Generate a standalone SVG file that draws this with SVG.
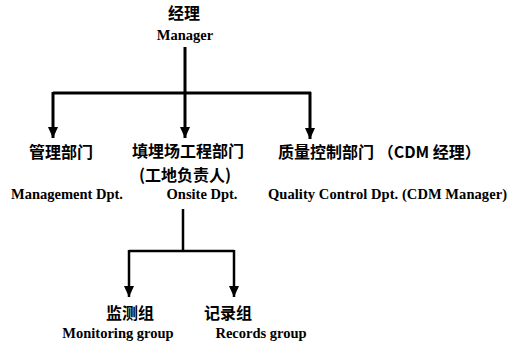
<svg xmlns="http://www.w3.org/2000/svg" width="511" height="345" viewBox="0 0 511 345">
<style>
.zh{font-family:"Noto Sans CJK SC",sans-serif;font-size:16px;font-weight:bold;fill:#000}
.en{font-family:"Liberation Serif",serif;font-size:14.5px;font-weight:bold;fill:#000}
.ln{stroke:#000;stroke-width:3;fill:none}
.ln2{stroke:#000;stroke-width:2.5;fill:none}
</style>
<defs>
<marker id="ahv" markerUnits="userSpaceOnUse" markerWidth="12" markerHeight="13" refX="12" refY="6" orient="auto" viewBox="0 0 13 12">
<path d="M0,0.5 L0,11.5 L12,6 Z" fill="#000"/>
</marker>
</defs>
<rect width="511" height="345" fill="#fff"/>
<g id="connectors">
<path class="ln" d="M185,47 V93 M53,93 H311"/>
<path class="ln" d="M53,92 V138" marker-end="url(#ahv)"/>
<path class="ln" d="M185,92 V138" marker-end="url(#ahv)"/>
<path class="ln" d="M310,92 V139" marker-end="url(#ahv)"/>
<path class="ln2" d="M183,209 V251 M129,251 H234"/>
<path class="ln2" d="M129,250 V297" marker-end="url(#ahv)"/>
<path class="ln2" d="M234,250 V297" marker-end="url(#ahv)"/>
</g>
<g id="manager">
<text class="zh" x="184" y="19" text-anchor="middle">经理</text>
<text class="en" x="185" y="40" text-anchor="middle">Manager</text>
</g>
<g id="management">
<text class="zh" x="61" y="158" text-anchor="middle">管理部门</text>
<text class="en" x="67" y="199" text-anchor="middle">Management Dpt.</text>
</g>
<g id="onsite">
<text class="zh" x="188" y="157" text-anchor="middle">填埋场工程部门</text>
<text class="zh" x="185" y="181" text-anchor="middle">(工地负责人)</text>
<text class="en" x="202" y="199" text-anchor="middle">Onsite Dpt.</text>
</g>
<g id="quality">
<text class="zh" x="278" y="158">质量控制部门 （CDM 经理）</text>
<text class="en" x="268" y="199" textLength="239">Quality Control  Dpt. (CDM Manager)</text>
</g>
<g id="monitoring">
<text class="zh" x="130" y="319" text-anchor="middle">监测组</text>
<text class="en" x="118" y="338" text-anchor="middle">Monitoring group</text>
</g>
<g id="records">
<text class="zh" x="228" y="319" text-anchor="middle">记录组</text>
<text class="en" x="261" y="338" text-anchor="middle">Records group</text>
</g>
</svg>
